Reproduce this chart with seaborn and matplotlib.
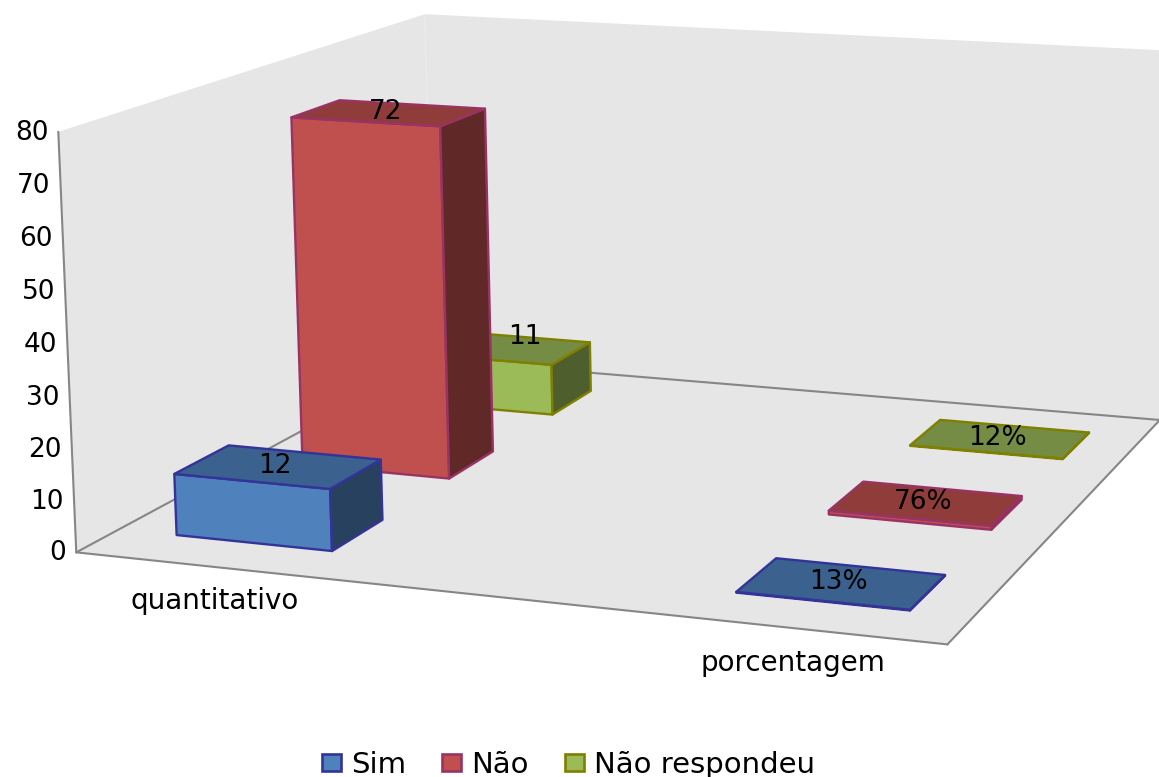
import numpy as np
import matplotlib
matplotlib.use("Agg")
import matplotlib.pyplot as plt
from matplotlib.patches import Patch, Polygon
import seaborn as sns

# Chart values
categories = ["quantitativo", "porcentagem"]
series_names = ["Sim", "Não", "Não respondeu"]
quantitativo = [12, 72, 11]
porcentagem = [0.13, 0.76, 0.12]
value_labels = [["12", "72", "11"], ["13%", "76%", "12%"]]
value_ticks = [0, 10, 20, 30, 40, 50, 60, 70, 80]

# Styling
face_colors = ["#4F81BD", "#C0504D", "#9BBB59"]
edge_colors = ["#333399", "#993366", "#808000"]
wall_color = "#E6E6E6"
axis_color = "#868686"
text_color = "#000000"

sns.set_theme(style="white", palette=sns.color_palette(face_colors))
plt.rcParams["font.family"] = ["DejaVu Sans"]

W, H = 1159, 777
fig, ax = plt.subplots(figsize=(W / 100, H / 100), dpi=100)
ax.set_position([0, 0, 1, 1])
ax.set_xlim(0, W)
ax.set_ylim(H, 0)
ax.axis("off")

# Camera: a perspective matrix solved from where the box corners fall on the canvas
X_MAX, Y_MAX, Z_MAX = 2.0, 3.0, 80.0
box_world = [(0, 0, 0), (X_MAX, 0, 0), (0, Y_MAX, 0), (X_MAX, Y_MAX, 0),
             (0, 0, Z_MAX), (0, Y_MAX, Z_MAX), (X_MAX, Y_MAX, Z_MAX)]
box_canvas = [(79, 551), (948, 644.5), (430, 360.5), (1161, 420.2),
              (55, 133), (429, 13.5), (1161, 50)]
rows = []
for (x, y, z), (u, v) in zip(box_world, box_canvas):
    rows.append([x, y, z, 1, 0, 0, 0, 0, -u * x, -u * y, -u * z, -u])
    rows.append([0, 0, 0, 0, x, y, z, 1, -v * x, -v * y, -v * z, -v])
camera = np.linalg.svd(np.array(rows, float))[2][-1].reshape(3, 4)


def project(x, y, z):
    h = camera @ np.array([x, y, z, 1.0])
    return h[0] / h[2], h[1] / h[2]


def face(corners, color, edge=None, lw=1.7, zorder=3):
    ax.add_patch(Polygon([project(*c) for c in corners], closed=True, facecolor=color,
                         edgecolor=edge if edge else color, linewidth=lw,
                         joinstyle="round", zorder=zorder))


def shade(color, factor):
    return tuple(c * factor for c in matplotlib.colors.to_rgb(color))


# Walls and floor of the plotting box
face([(0, 0, 0), (0, Y_MAX, 0), (0, Y_MAX, Z_MAX), (0, 0, Z_MAX)], wall_color, lw=0, zorder=1)
face([(0, Y_MAX, 0), (X_MAX, Y_MAX, 0), (X_MAX, Y_MAX, Z_MAX), (0, Y_MAX, Z_MAX)], wall_color, lw=0, zorder=1)
face([(0, 0, 0), (X_MAX, 0, 0), (X_MAX, Y_MAX, 0), (0, Y_MAX, 0)], wall_color, lw=0, zorder=1)

corner_a, corner_b = project(0, Y_MAX, 0), project(0, Y_MAX, Z_MAX)
ax.plot([corner_a[0], corner_b[0]], [corner_a[1], corner_b[1]], color="#ECECEC", lw=0.8, zorder=1.5)

frame_edges = [((0, 0, 0), (0, 0, Z_MAX)), ((0, 0, 0), (X_MAX, 0, 0)), ((0, 0, 0), (0, Y_MAX, 0)),
               ((0, Y_MAX, 0), (X_MAX, Y_MAX, 0)), ((X_MAX, 0, 0), (X_MAX, Y_MAX, 0))]
for start, end in frame_edges:
    p, q = project(*start), project(*end)
    ax.plot([p[0], q[0]], [p[1], q[1]], color=axis_color, lw=1.5, solid_capstyle="round", zorder=2)

# Value axis labels
for tick in value_ticks:
    ax.annotate(str(tick), project(0, 0, tick), xytext=(-10, -1), textcoords="offset pixels",
                ha="right", va="center", fontsize=19, color=text_color, zorder=6)

# Bars, from the back row to the front one so nearer bars cover farther ones
cat_centers = [0.3375, 1.67]
series_centers = [0.507, 1.5, 2.507]
half_width, half_depth = 0.1925, 0.205
label_offsets = {(0, 2): (23, 11)}

for cat_i, values in enumerate([quantitativo, porcentagem]):
    xc = cat_centers[cat_i]
    x0, x1 = xc - half_width, xc + half_width
    for s in reversed(range(len(series_names))):
        y0, y1 = series_centers[s] - half_depth, series_centers[s] + half_depth
        v = values[s]
        base, edge = face_colors[s], edge_colors[s]
        order = 3 + (2 - s) * 0.1
        face([(x0, y0, 0), (x1, y0, 0), (x1, y0, v), (x0, y0, v)], base, edge, zorder=order)
        face([(x1, y0, 0), (x1, y1, 0), (x1, y1, v), (x1, y0, v)], shade(base, 0.5), edge, zorder=order)
        face([(x0, y0, v), (x1, y0, v), (x1, y1, v), (x0, y1, v)], shade(base, 0.75), edge, zorder=order)
        dx, dy = label_offsets.get((cat_i, s), (-3, 1))
        ax.annotate(value_labels[cat_i][s], project(xc, series_centers[s], v),
                    xytext=(dx, dy), textcoords="offset pixels",
                    ha="center", va="center", fontsize=19, color=text_color, zorder=6)

# Category labels sit below the front edge of the floor
cat_offsets = [(1, -34), (0, -35)]
for cat_i, name in enumerate(categories):
    ax.annotate(name, project(cat_centers[cat_i], 0, 0), xytext=cat_offsets[cat_i],
                textcoords="offset pixels", ha="center", va="center",
                fontsize=20, color=text_color, zorder=6)

handles = [Patch(facecolor=f, edgecolor=e, linewidth=1.9) for f, e in zip(face_colors, edge_colors)]
ax.legend(handles, series_names, loc="lower left", bbox_to_anchor=(322 / W, -0.002),
          ncol=3, frameon=False, fontsize=21, borderpad=0, borderaxespad=0,
          handlelength=0.65, handleheight=0.54, handletextpad=0.34, columnspacing=1.25,
          labelcolor=text_color)

fig.savefig("out.png", dpi=100, facecolor="white")
